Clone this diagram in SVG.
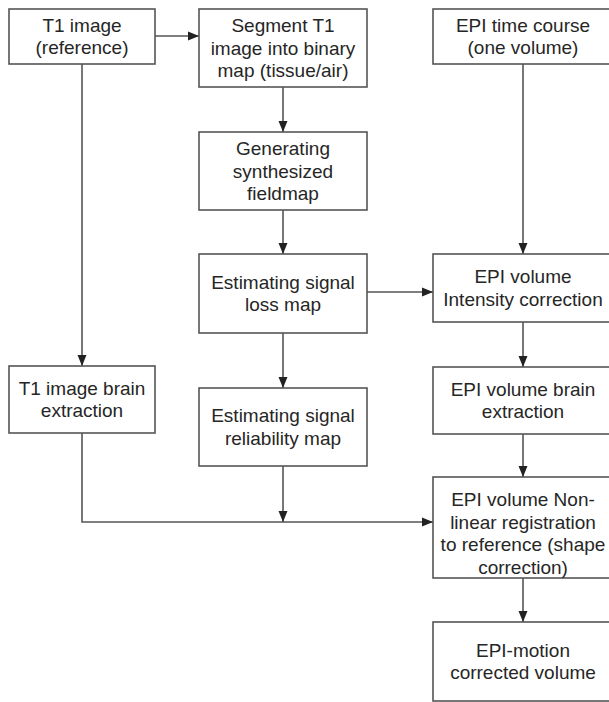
<svg xmlns="http://www.w3.org/2000/svg" width="609" height="702" viewBox="0 0 609 702">
<defs>
<style>
.box{fill:#ffffff;stroke:#555555;stroke-width:1.6}
.t{font-family:"Liberation Sans",Arial,sans-serif;font-size:19px;fill:#262626;text-anchor:middle}
.c{fill:none;stroke:#555555;stroke-width:1.6}
</style>
<marker id="ah" markerUnits="userSpaceOnUse" markerWidth="11" markerHeight="11" viewBox="0 0 11 11" refX="11" refY="5.5" orient="auto">
<path d="M0,1 L11,5.5 L0,10 Z" fill="#222222"/>
</marker>
</defs>
<rect width="609" height="702" fill="#ffffff"/>
<g id="connectors">
<path class="c" d="M155,36 H199" marker-end="url(#ah)"/>
<path class="c" d="M82,64 V366" marker-end="url(#ah)"/>
<path class="c" d="M283,87 V132" marker-end="url(#ah)"/>
<path class="c" d="M283,210 V254" marker-end="url(#ah)"/>
<path class="c" d="M367,292 H433" marker-end="url(#ah)"/>
<path class="c" d="M283,333 V388" marker-end="url(#ah)"/>
<path class="c" d="M523,64 V254" marker-end="url(#ah)"/>
<path class="c" d="M523,322 V367" marker-end="url(#ah)"/>
<path class="c" d="M523,434 V477" marker-end="url(#ah)"/>
<path class="c" d="M523,578 V622" marker-end="url(#ah)"/>
<path class="c" d="M82,433 V522 H433" marker-end="url(#ah)"/>
<path class="c" d="M283,466 V522" marker-end="url(#ah)"/>
</g>
<g id="t1-image">
<rect class="box" x="9" y="9" width="146" height="55"/>
<text class="t" x="82" y="31.5">T1 image</text>
<text class="t" x="82" y="54">(reference)</text>
</g>
<g id="segment">
<rect class="box" x="199" y="9" width="168" height="78"/>
<text class="t" x="283" y="32">Segment T1</text>
<text class="t" x="283" y="54.5">image into binary</text>
<text class="t" x="283" y="77">map (tissue/air)</text>
</g>
<g id="epi-time-course">
<rect class="box" x="433" y="9" width="180" height="55"/>
<text class="t" x="523" y="31.5">EPI time course</text>
<text class="t" x="523" y="54">(one volume)</text>
</g>
<g id="fieldmap">
<rect class="box" x="199" y="132" width="168" height="78"/>
<text class="t" x="283" y="155">Generating</text>
<text class="t" x="283" y="177.5">synthesized</text>
<text class="t" x="283" y="200">fieldmap</text>
</g>
<g id="signal-loss">
<rect class="box" x="199" y="254" width="168" height="79"/>
<text class="t" x="283" y="288.5">Estimating signal</text>
<text class="t" x="283" y="311">loss map</text>
</g>
<g id="t1-brain">
<rect class="box" x="9" y="366" width="146" height="67"/>
<text class="t" x="82" y="394.5">T1 image brain</text>
<text class="t" x="82" y="417">extraction</text>
</g>
<g id="reliability">
<rect class="box" x="199" y="388" width="168" height="78"/>
<text class="t" x="283" y="422">Estimating signal</text>
<text class="t" x="283" y="444.5">reliability map</text>
</g>
<g id="intensity">
<rect class="box" x="433" y="254" width="180" height="68"/>
<text class="t" x="523" y="283">EPI volume</text>
<text class="t" x="523" y="305.5">Intensity correction</text>
</g>
<g id="epi-brain">
<rect class="box" x="433" y="367" width="180" height="67"/>
<text class="t" x="523" y="395.5">EPI volume brain</text>
<text class="t" x="523" y="418">extraction</text>
</g>
<g id="registration">
<rect class="box" x="433" y="477" width="180" height="101"/>
<text class="t" x="523" y="506">EPI volume Non-</text>
<text class="t" x="523" y="528.5">linear registration</text>
<text class="t" x="523" y="551">to reference (shape</text>
<text class="t" x="523" y="573.5">correction)</text>
</g>
<g id="motion-corrected">
<rect class="box" x="433" y="622" width="180" height="79"/>
<text class="t" x="523" y="656.5">EPI-motion</text>
<text class="t" x="523" y="679">corrected volume</text>
</g>
</svg>
